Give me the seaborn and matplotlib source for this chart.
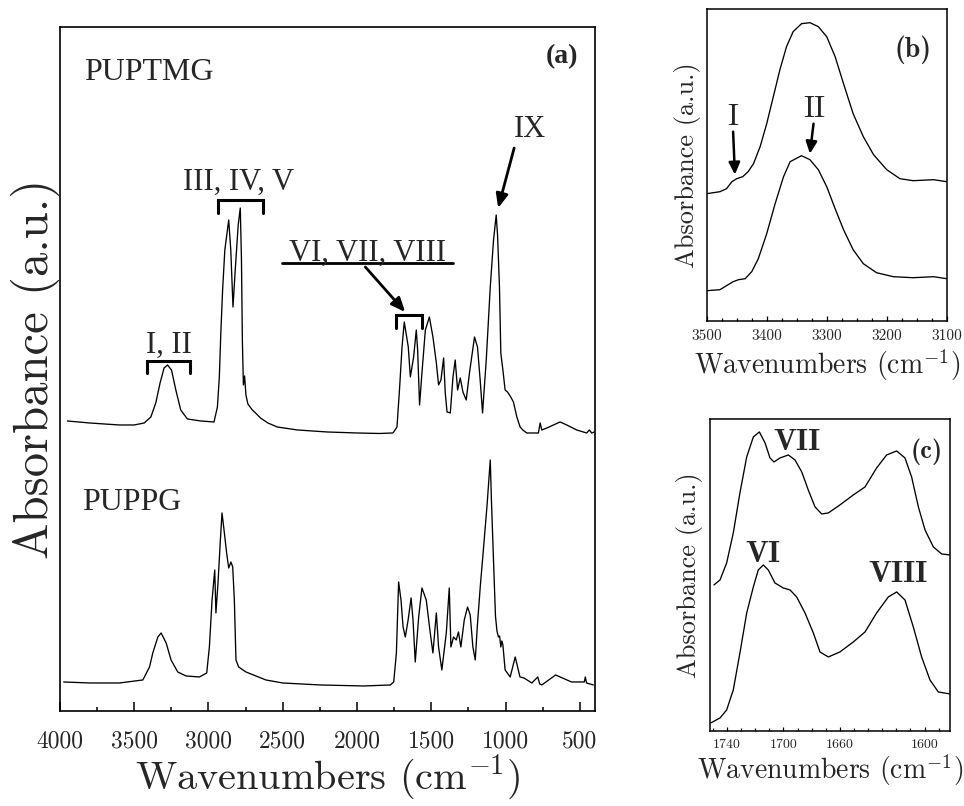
import numpy as np
import matplotlib
matplotlib.use("Agg")
import matplotlib.pyplot as plt
import seaborn as sns
from matplotlib.ticker import FixedLocator

# ---------------------------------------------------------------------------
# FTIR spectra (wavenumber in cm^-1, absorbance in arbitrary units, each trace
# measured from its own baseline)
# ---------------------------------------------------------------------------

# (a) full range, PUPTMG
puptmg_wn = [3950, 3800, 3600, 3500, 3433, 3388, 3355, 3326, 3299, 3276, 3249, 3220,
             3187, 3142, 3052, 2963, 2940, 2927, 2917, 2905, 2890, 2864, 2850, 2835,
             2820, 2800, 2786, 2778, 2772, 2765, 2757, 2748, 2735, 2705, 2683, 2650,
             2600, 2537, 2400, 2200, 2000, 1850, 1760, 1753, 1731, 1713, 1697, 1682,
             1668, 1655, 1641, 1619, 1601, 1592, 1579, 1563, 1540, 1513, 1489, 1466,
             1451, 1435, 1417, 1406, 1394, 1372, 1354, 1339, 1323, 1305, 1287, 1265,
             1243, 1209, 1189, 1171, 1155, 1130, 1103, 1081, 1063, 1054, 1041, 1032,
             1018, 1003, 987, 965, 947, 924, 902, 884, 857, 779, 767, 756, 722, 678,
             633, 588, 521, 454, 436, 420, 402]
puptmg_ab = [0.20, 0.18, 0.16, 0.16, 0.18, 0.24, 0.38, 0.58, 0.73, 0.76, 0.71, 0.51,
             0.31, 0.22, 0.20, 0.19, 0.34, 0.64, 1.08, 1.51, 1.91, 2.21, 1.91, 1.34,
             1.71, 2.16, 2.33, 1.81, 1.01, 0.56, 0.65, 0.46, 0.37, 0.31, 0.28, 0.23,
             0.18, 0.14, 0.11, 0.09, 0.08, 0.075, 0.08, 0.09, 0.14, 0.54, 0.94, 1.19,
             1.06, 0.94, 0.64, 0.84, 1.11, 0.91, 0.36, 0.68, 1.11, 1.24, 1.04, 0.78,
             0.56, 0.61, 0.83, 0.48, 0.29, 0.28, 0.64, 0.81, 0.51, 0.63, 0.49, 0.41,
             0.68, 1.04, 0.94, 0.61, 0.28, 0.81, 1.54, 2.01, 2.26, 2.06, 1.54, 0.88,
             0.71, 0.51, 0.49, 0.44, 0.39, 0.24, 0.14, 0.11, 0.08, 0.08, 0.18, 0.11,
             0.13, 0.16, 0.19, 0.16, 0.11, 0.08, 0.11, 0.08, 0.09]

# (a) full range, PUPPG
puppg_wn = [3975, 3800, 3599, 3442, 3397, 3375, 3341, 3319, 3285, 3252, 3207, 3151,
            3061, 3012, 2994, 2976, 2958, 2950, 2936, 2920, 2909, 2893, 2878, 2864,
            2849, 2837, 2826, 2815, 2797, 2748, 2613, 2501, 2246, 1955, 1776, 1753,
            1735, 1720, 1704, 1690, 1675, 1656, 1636, 1623, 1608, 1585, 1563, 1534,
            1507, 1489, 1466, 1451, 1429, 1399, 1379, 1368, 1350, 1332, 1317, 1301,
            1278, 1256, 1238, 1220, 1204, 1190, 1170, 1150, 1125, 1103, 1095, 1081,
            1068, 1058, 1048, 1040, 1032, 1025, 1018, 1003, 969, 935, 903, 876, 823,
            783, 770, 756, 663, 556, 470, 463, 455, 409]
puppg_ab = [0.09, 0.08, 0.08, 0.11, 0.24, 0.38, 0.54, 0.58, 0.48, 0.31, 0.19, 0.15,
            0.14, 0.18, 0.44, 0.91, 1.21, 0.78, 1.08, 1.51, 1.78, 1.58, 1.38, 1.23,
            1.29, 1.24, 0.91, 0.31, 0.24, 0.19, 0.11, 0.08, 0.06, 0.05, 0.06, 0.09,
            0.38, 1.09, 0.91, 0.64, 0.54, 0.71, 0.93, 0.71, 0.29, 0.74, 1.03, 0.91,
            0.58, 0.38, 0.78, 0.44, 0.21, 0.58, 1.03, 0.44, 0.54, 0.51, 0.59, 0.44,
            0.71, 0.84, 0.76, 0.44, 0.31, 0.65, 1.05, 1.40, 1.85, 2.31, 1.90, 1.30,
            0.75, 0.60, 0.54, 0.55, 0.44, 0.50, 0.46, 0.21, 0.14, 0.34, 0.14, 0.13,
            0.08, 0.14, 0.07, 0.06, 0.16, 0.09, 0.09, 0.14, 0.08, 0.06]

# (b) N-H stretching region
nh_wn = [3500, 3478, 3467, 3458, 3450, 3440, 3431, 3422, 3411, 3400, 3389, 3378,
         3367, 3356, 3342, 3328, 3314, 3300, 3286, 3272, 3256, 3239, 3222, 3200,
         3178, 3156, 3122, 3100]
nh_puptmg = [0.02, 0.04, 0.07, 0.14, 0.17, 0.19, 0.24, 0.32, 0.49, 0.72, 0.99, 1.26,
             1.49, 1.64, 1.72, 1.73, 1.69, 1.59, 1.39, 1.12, 0.82, 0.59, 0.41, 0.26,
             0.17, 0.15, 0.16, 0.14]
nh_wn_b = [3500, 3478, 3467, 3456, 3447, 3436, 3425, 3414, 3400, 3386, 3372, 3361,
           3342, 3328, 3314, 3300, 3286, 3272, 3256, 3239, 3217, 3189, 3156, 3122, 3100]
nh_puppg = [0.05, 0.06, 0.10, 0.14, 0.16, 0.17, 0.24, 0.37, 0.62, 0.92, 1.19, 1.34,
            1.40, 1.36, 1.26, 1.09, 0.87, 0.66, 0.46, 0.32, 0.23, 0.19, 0.18, 0.19, 0.17]

# (c) carbonyl region
co_wn = [1749.2, 1744.9, 1740.2, 1735.5, 1730.8, 1726.0, 1721.3, 1717.0, 1713.0,
         1709.5, 1706.7, 1702.4, 1696.5, 1691.8, 1687.0, 1682.4, 1677.6, 1672.9,
         1668.2, 1660.0, 1650.5, 1642.2, 1634.0, 1626.9, 1619.8, 1613.9, 1609.2,
         1604.4, 1599.7, 1593.8, 1587.9, 1582.0]
co_puptmg = [0.06, 0.11, 0.28, 0.58, 0.98, 1.34, 1.54, 1.59, 1.48, 1.33, 1.29, 1.33,
             1.36, 1.31, 1.19, 1.01, 0.84, 0.77, 0.78, 0.86, 0.96, 1.04, 1.23, 1.36,
             1.40, 1.33, 1.14, 0.84, 0.61, 0.44, 0.37, 0.36]
co_wn_b = [1751.5, 1744.9, 1740.2, 1735.5, 1730.8, 1726.0, 1721.3, 1717.8, 1714.2,
           1710.7, 1706.0, 1700.1, 1695.3, 1690.6, 1684.7, 1678.8, 1674.1, 1668.2,
           1660.0, 1650.5, 1642.2, 1634.0, 1625.7, 1619.8, 1613.9, 1608.0, 1602.1,
           1596.2, 1590.3, 1582.0]
co_puppg = [0.03, 0.08, 0.16, 0.36, 0.73, 1.13, 1.39, 1.56, 1.61, 1.56, 1.43, 1.38,
            1.36, 1.29, 1.13, 0.93, 0.74, 0.69, 0.74, 0.84, 0.94, 1.13, 1.29, 1.34,
            1.26, 0.99, 0.69, 0.46, 0.34, 0.32]

ticks_a = [4000, 3500, 3000, 2500, 2000, 1500, 1000, 500]
ticks_b = [3500, 3400, 3300, 3200, 3100]
ticks_c = [1740, 1700, 1660, 1600]

# ---------------------------------------------------------------------------
sns.set_theme(style="white")
plt.rcParams['font.family'] = ['cmr10', 'DejaVu Serif']
plt.rcParams['mathtext.fontset'] = 'cm'
plt.rcParams['axes.formatter.use_mathtext'] = True

fig = plt.figure(figsize=(9.64, 8.06), dpi=100)
ax_a = fig.add_axes([0.0622, 0.1179, 0.5550, 0.8486])
ax_b = fig.add_axes([0.7331, 0.6021, 0.2490, 0.3864])
ax_c = fig.add_axes([0.7365, 0.0931, 0.2490, 0.3871])

XLABEL = 'Wavenumbers (cm$^{-1}$)'
YLABEL = 'Absorbance (a.u.)'
TIMES = 'Liberation Serif'
BOLD_CM = ['cmb10', 'DejaVu Serif']


def trace(ax, wn, ab, offset, lw=0.95):
    sns.lineplot(x=wn, y=np.asarray(ab) + offset, ax=ax, color='black',
                 lw=lw, estimator=None, sort=False)


def frame(ax, spine_w):
    ax.set_facecolor('white')
    for s in ax.spines.values():
        s.set_visible(True)
        s.set_color('black')
        s.set_linewidth(spine_w)
    ax.set_yticks([])
    ax.grid(False)


def bracket(ax, x0, x1, ytop, ylow, lw=2.2):
    ax.plot([x0, x0, x1, x1], [ylow, ytop, ytop, ylow], color='black', lw=lw,
            solid_joinstyle='miter')


# ----- (a) ---------------------------------------------------------------
trace(ax_a, puptmg_wn, puptmg_ab, 2.70)
trace(ax_a, puppg_wn, puppg_ab, 0.20)
ax_a.set_xlim(4000, 398)
ax_a.set_ylim(0, 6.84)
frame(ax_a, 1.2)
ax_a.set_xticks(ticks_a)
ax_a.set_xticklabels([str(t) for t in ticks_a])
ax_a.xaxis.set_minor_locator(FixedLocator(np.arange(750, 4000, 500)))
ax_a.tick_params(axis='x', which='major', direction='in', length=6.5, width=1.1,
                 labelsize=17, pad=14, bottom=True, color='black')
ax_a.tick_params(axis='x', which='minor', direction='in', length=3, width=1.1,
                 bottom=True, color='black')
ax_a.set_xlabel(XLABEL, fontsize=29, labelpad=0)
ax_a.set_ylabel(YLABEL, fontsize=35, labelpad=0)

ax_a.text(3839, 6.38, 'PUPTMG', family=TIMES, fontsize=23, ha='left', va='center')
ax_a.text(3852, 2.08, 'PUPPG', family=TIMES, fontsize=23, ha='left', va='center')
ax_a.text(623, 6.54, '(a)', family=TIMES, fontsize=20, fontweight='bold',
          ha='center', va='center')
ax_a.text(835, 5.81, 'IX', family=TIMES, fontsize=22, ha='center', va='center')
ax_a.text(2797, 5.29, 'III, IV, V', family=TIMES, fontsize=22, ha='center', va='center')
ax_a.text(3263, 3.66, 'I, II', family=TIMES, fontsize=22, ha='center', va='center')
ax_a.text(1930, 4.58, 'VI, VII, VIII', family=TIMES, fontsize=22, ha='center', va='center')
ax_a.plot([2503, 1356], [4.48, 4.48], color='black', lw=2)

arrow = dict(arrowstyle='-|>,head_length=0.7,head_width=0.3', color='black', lw=2,
             shrinkA=0, shrinkB=0)
ax_a.annotate('', xy=(1050, 5.03), xytext=(942, 5.63), arrowprops=arrow)
ax_a.annotate('', xy=(1676, 3.99), xytext=(1944, 4.44), arrowprops=arrow)

bracket(ax_a, 2935, 2631, 5.11, 4.98)
bracket(ax_a, 3415, 3126, 3.50, 3.38)
bracket(ax_a, 1735, 1565, 3.96, 3.83)

# ----- (b) ---------------------------------------------------------------
trace(ax_b, nh_wn, nh_puptmg, 1.25)
trace(ax_b, nh_wn_b, nh_puppg, 0.25)
ax_b.set_xlim(3500, 3100)
ax_b.set_ylim(0, 3.114)
frame(ax_b, 1.1)
ax_b.set_xticks(ticks_b)
ax_b.set_xticklabels([str(t) for t in ticks_b])
ax_b.xaxis.set_minor_locator(FixedLocator(np.arange(3125, 3500, 25)))
ax_b.tick_params(axis='x', which='major', direction='in', length=3.5, width=0.9,
                 labelsize=11, pad=6, bottom=True, color='black')
ax_b.tick_params(axis='x', which='minor', direction='in', length=2.2, width=0.9,
                 bottom=True, color='black')
ax_b.set_xlabel(XLABEL, fontsize=20, labelpad=3)
ax_b.set_ylabel(YLABEL, fontsize=19, labelpad=4)
ax_b.text(3456, 2.03, 'I', fontsize=22, ha='center', va='center')
ax_b.text(3320, 2.11, 'II', fontsize=22, ha='center', va='center')
ax_b.text(3156, 2.71, '(b)', family=BOLD_CM, fontsize=20, ha='center', va='center')
arrow_s = dict(arrowstyle='-|>,head_length=0.6,head_width=0.28', color='black', lw=1.8,
               shrinkA=0, shrinkB=0)
ax_b.annotate('', xy=(3453, 1.46), xytext=(3456, 1.89), arrowprops=arrow_s)
ax_b.annotate('', xy=(3328, 1.67), xytext=(3322, 1.97), arrowprops=arrow_s)

# ----- (c) ---------------------------------------------------------------
trace(ax_c, co_wn, co_puptmg, 1.40)
trace(ax_c, co_wn_b, co_puppg, 0.05)
ax_c.set_xlim(1752, 1582)
ax_c.set_ylim(0, 3.12)
frame(ax_c, 1.1)
ax_c.set_xticks(ticks_c)
ax_c.set_xticklabels([str(t) for t in ticks_c])
ax_c.xaxis.set_minor_locator(FixedLocator(np.arange(1590, 1751, 10)))
ax_c.tick_params(axis='x', which='major', direction='in', length=3, width=0.9,
                 labelsize=10, pad=6, bottom=True, color='black')
ax_c.tick_params(axis='x', which='minor', direction='in', length=2.2, width=0.9,
                 bottom=True, color='black')
ax_c.set_xlabel(XLABEL, fontsize=20, labelpad=1)
ax_c.set_ylabel(YLABEL, fontsize=19, labelpad=5)
ax_c.text(1690.6, 2.88, 'VII', family=BOLD_CM, fontsize=22, ha='center', va='center')
ax_c.text(1714.2, 1.76, 'VI', family=BOLD_CM, fontsize=22, ha='center', va='center')
ax_c.text(1618.6, 1.56, 'VIII', family=BOLD_CM, fontsize=22, ha='center', va='center')
ax_c.text(1598.5, 2.79, '(c)', family=BOLD_CM, fontsize=19, ha='center', va='center')

fig.savefig('out.png', dpi=100, facecolor='white')
